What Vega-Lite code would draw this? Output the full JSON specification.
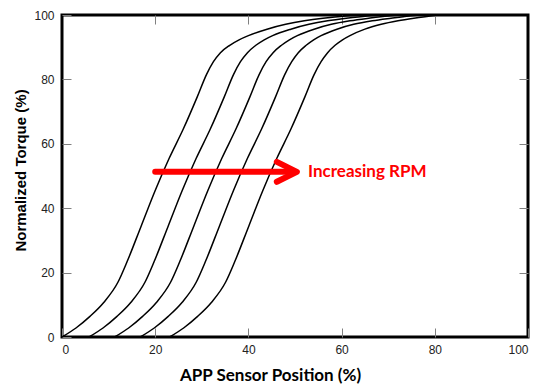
{
  "$schema": "https://vega.github.io/schema/vega-lite/v6.json",
  "width": 466,
  "height": 322,
  "autosize": "none",
  "padding": {"left": 62, "top": 15, "right": 13, "bottom": 48},
  "background": "white",
  "config": {
    "view": {"stroke": "black", "strokeWidth": 3},
    "axis": {"grid": false, "domain": false, "tickColor": "#808080", "tickWidth": 1, "tickSize": -9,
      "labelFont": "Liberation Sans", "labelFontSize": 12, "labelColor": "#222222",
      "titleFont": "Liberation Sans", "titleColor": "black", "titleFontWeight": "bold"}
  },
  "datasets": {
    "curves": [
      {"c": 1, "x": 0, "y": 0}, {"c": 1, "x": 3, "y": 2.8}, {"c": 1, "x": 6, "y": 6.4}, {"c": 1, "x": 9, "y": 10.8}, {"c": 1, "x": 12, "y": 17}, {"c": 1, "x": 14, "y": 23.5}, {"c": 1, "x": 17, "y": 34.5}, {"c": 1, "x": 20, "y": 45.5}, {"c": 1, "x": 23, "y": 55.5}, {"c": 1, "x": 26, "y": 64.5}, {"c": 1, "x": 29, "y": 74.5}, {"c": 1, "x": 31, "y": 81.5}, {"c": 1, "x": 32.5, "y": 85.5}, {"c": 1, "x": 34, "y": 88.3}, {"c": 1, "x": 36, "y": 90.6}, {"c": 1, "x": 38, "y": 92.3}, {"c": 1, "x": 40, "y": 93.6}, {"c": 1, "x": 44, "y": 95.6}, {"c": 1, "x": 48, "y": 97.1}, {"c": 1, "x": 52, "y": 98.2}, {"c": 1, "x": 56, "y": 99}, {"c": 1, "x": 61, "y": 99.7}, {"c": 1, "x": 65, "y": 100},
      {"c": 2, "x": 5.8, "y": 0}, {"c": 2, "x": 8.8, "y": 2.8}, {"c": 2, "x": 11.8, "y": 6.4}, {"c": 2, "x": 14.8, "y": 10.8}, {"c": 2, "x": 17.8, "y": 17}, {"c": 2, "x": 19.8, "y": 23.5}, {"c": 2, "x": 22.8, "y": 34.5}, {"c": 2, "x": 25.8, "y": 45.5}, {"c": 2, "x": 28.8, "y": 55.5}, {"c": 2, "x": 31.8, "y": 64.5}, {"c": 2, "x": 34.8, "y": 74.5}, {"c": 2, "x": 36.8, "y": 81.5}, {"c": 2, "x": 38.3, "y": 85.5}, {"c": 2, "x": 39.8, "y": 88.3}, {"c": 2, "x": 41.6, "y": 90.6}, {"c": 2, "x": 43.4, "y": 92.3}, {"c": 2, "x": 45.2, "y": 93.6}, {"c": 2, "x": 49.1, "y": 95.6}, {"c": 2, "x": 53, "y": 97.1}, {"c": 2, "x": 57, "y": 98.2}, {"c": 2, "x": 61, "y": 99}, {"c": 2, "x": 65.5, "y": 99.7}, {"c": 2, "x": 69, "y": 100},
      {"c": 3, "x": 11.3, "y": 0}, {"c": 3, "x": 14.3, "y": 2.8}, {"c": 3, "x": 17.3, "y": 6.4}, {"c": 3, "x": 20.3, "y": 10.8}, {"c": 3, "x": 23.3, "y": 17}, {"c": 3, "x": 25.3, "y": 23.5}, {"c": 3, "x": 28.3, "y": 34.5}, {"c": 3, "x": 31.3, "y": 45.5}, {"c": 3, "x": 34.3, "y": 55.5}, {"c": 3, "x": 37.3, "y": 64.5}, {"c": 3, "x": 40.3, "y": 74.5}, {"c": 3, "x": 42.3, "y": 81.5}, {"c": 3, "x": 43.8, "y": 85.5}, {"c": 3, "x": 45.3, "y": 88.3}, {"c": 3, "x": 47.1, "y": 90.6}, {"c": 3, "x": 48.8, "y": 92.3}, {"c": 3, "x": 50.5, "y": 93.6}, {"c": 3, "x": 54.1, "y": 95.6}, {"c": 3, "x": 57.8, "y": 97.1}, {"c": 3, "x": 61.8, "y": 98.2}, {"c": 3, "x": 65.8, "y": 99}, {"c": 3, "x": 70, "y": 99.7}, {"c": 3, "x": 73, "y": 100},
      {"c": 4, "x": 16.8, "y": 0}, {"c": 4, "x": 19.8, "y": 2.8}, {"c": 4, "x": 22.8, "y": 6.4}, {"c": 4, "x": 25.8, "y": 10.8}, {"c": 4, "x": 28.8, "y": 17}, {"c": 4, "x": 30.8, "y": 23.5}, {"c": 4, "x": 33.8, "y": 34.5}, {"c": 4, "x": 36.8, "y": 45.5}, {"c": 4, "x": 39.8, "y": 55.5}, {"c": 4, "x": 42.8, "y": 64.5}, {"c": 4, "x": 45.8, "y": 74.5}, {"c": 4, "x": 47.8, "y": 81.5}, {"c": 4, "x": 49.3, "y": 85.5}, {"c": 4, "x": 50.7, "y": 88.3}, {"c": 4, "x": 52.4, "y": 90.6}, {"c": 4, "x": 54, "y": 92.3}, {"c": 4, "x": 55.6, "y": 93.6}, {"c": 4, "x": 59, "y": 95.6}, {"c": 4, "x": 62.6, "y": 97.1}, {"c": 4, "x": 66.6, "y": 98.2}, {"c": 4, "x": 70.6, "y": 99}, {"c": 4, "x": 74.5, "y": 99.7}, {"c": 4, "x": 77, "y": 100},
      {"c": 5, "x": 23.1, "y": 0}, {"c": 5, "x": 26.1, "y": 2.8}, {"c": 5, "x": 29.1, "y": 6.4}, {"c": 5, "x": 32.1, "y": 10.8}, {"c": 5, "x": 35.1, "y": 17}, {"c": 5, "x": 37.1, "y": 23.5}, {"c": 5, "x": 40.1, "y": 34.5}, {"c": 5, "x": 43.1, "y": 45.5}, {"c": 5, "x": 46.1, "y": 55.5}, {"c": 5, "x": 49.1, "y": 64.5}, {"c": 5, "x": 52.1, "y": 74.5}, {"c": 5, "x": 54.1, "y": 81.5}, {"c": 5, "x": 55.6, "y": 85.5}, {"c": 5, "x": 57, "y": 88.3}, {"c": 5, "x": 58.6, "y": 90.6}, {"c": 5, "x": 60.2, "y": 92.3}, {"c": 5, "x": 61.8, "y": 93.6}, {"c": 5, "x": 65, "y": 95.6}, {"c": 5, "x": 68.5, "y": 97.1}, {"c": 5, "x": 72.1, "y": 98.2}, {"c": 5, "x": 75.5, "y": 99}, {"c": 5, "x": 79, "y": 99.7}, {"c": 5, "x": 81, "y": 100}
    ],
    "arrow": [
      {"part": "shaft", "o": 1, "x": 20, "y": 51.3},
      {"part": "shaft", "o": 2, "x": 49.6, "y": 51.3},
      {"part": "head", "o": 1, "x": 46.1, "y": 54.4},
      {"part": "head", "o": 2, "x": 50.4, "y": 51.3},
      {"part": "head", "o": 3, "x": 46.1, "y": 48.2}
    ],
    "label": [{"x": 52.8, "y": 51.3, "t": "Increasing RPM"}]
  },
  "layer": [
    {
      "data": {"name": "curves"},
      "mark": {"type": "line", "color": "black", "strokeWidth": 1.5, "interpolate": "monotone", "clip": false},
      "encoding": {
        "x": {"field": "x", "type": "quantitative", "scale": {"domain": [0, 100], "nice": false},
          "axis": {"title": "APP Sensor Position (%)", "values": [0, 20, 40, 60, 80, 100], "labelPadding": 16,
            "titleFont": "Lato", "titleFontSize": 17, "titleX": 208, "titleY": 38, "titleAlign": "center", "titleBaseline": "middle"}},
        "y": {"field": "y", "type": "quantitative", "scale": {"domain": [0, 100], "nice": false},
          "axis": {"title": "Normalized Torque (%)", "values": [0, 20, 40, 60, 80, 100], "labelPadding": 17,
            "titleFontSize": 15, "titleX": -42, "titleY": 155, "titleAlign": "center", "titleBaseline": "middle"}},
        "detail": {"field": "c", "type": "nominal"}
      }
    },
    {
      "data": {"name": "curves"},
      "mark": {"type": "point", "opacity": 0},
      "encoding": {
        "x": {"field": "x", "type": "quantitative", "scale": {"domain": [0, 100], "nice": false},
          "axis": {"orient": "top", "title": null, "labels": false, "values": [20, 40, 60, 80]}},
        "y": {"field": "y", "type": "quantitative", "scale": {"domain": [0, 100], "nice": false},
          "axis": {"orient": "right", "title": null, "labels": false, "values": [20, 40, 60, 80]}}
      }
    },
    {
      "data": {"name": "arrow"},
      "mark": {"type": "line", "color": "#ff0000", "strokeWidth": 6, "strokeJoin": "round", "strokeCap": "round"},
      "encoding": {
        "x": {"field": "x", "type": "quantitative", "axis": null},
        "y": {"field": "y", "type": "quantitative", "axis": null},
        "detail": {"field": "part", "type": "nominal"},
        "order": {"field": "o", "type": "quantitative"}
      }
    },
    {
      "data": {"name": "label"},
      "mark": {"type": "text", "color": "#ff0000", "font": "Lato", "fontWeight": "bold", "fontSize": 17, "align": "left", "baseline": "middle"},
      "encoding": {
        "x": {"field": "x", "type": "quantitative", "axis": null},
        "y": {"field": "y", "type": "quantitative", "axis": null},
        "text": {"field": "t"}
      }
    }
  ],
  "resolve": {"axis": {"x": "independent", "y": "independent"}}
}
